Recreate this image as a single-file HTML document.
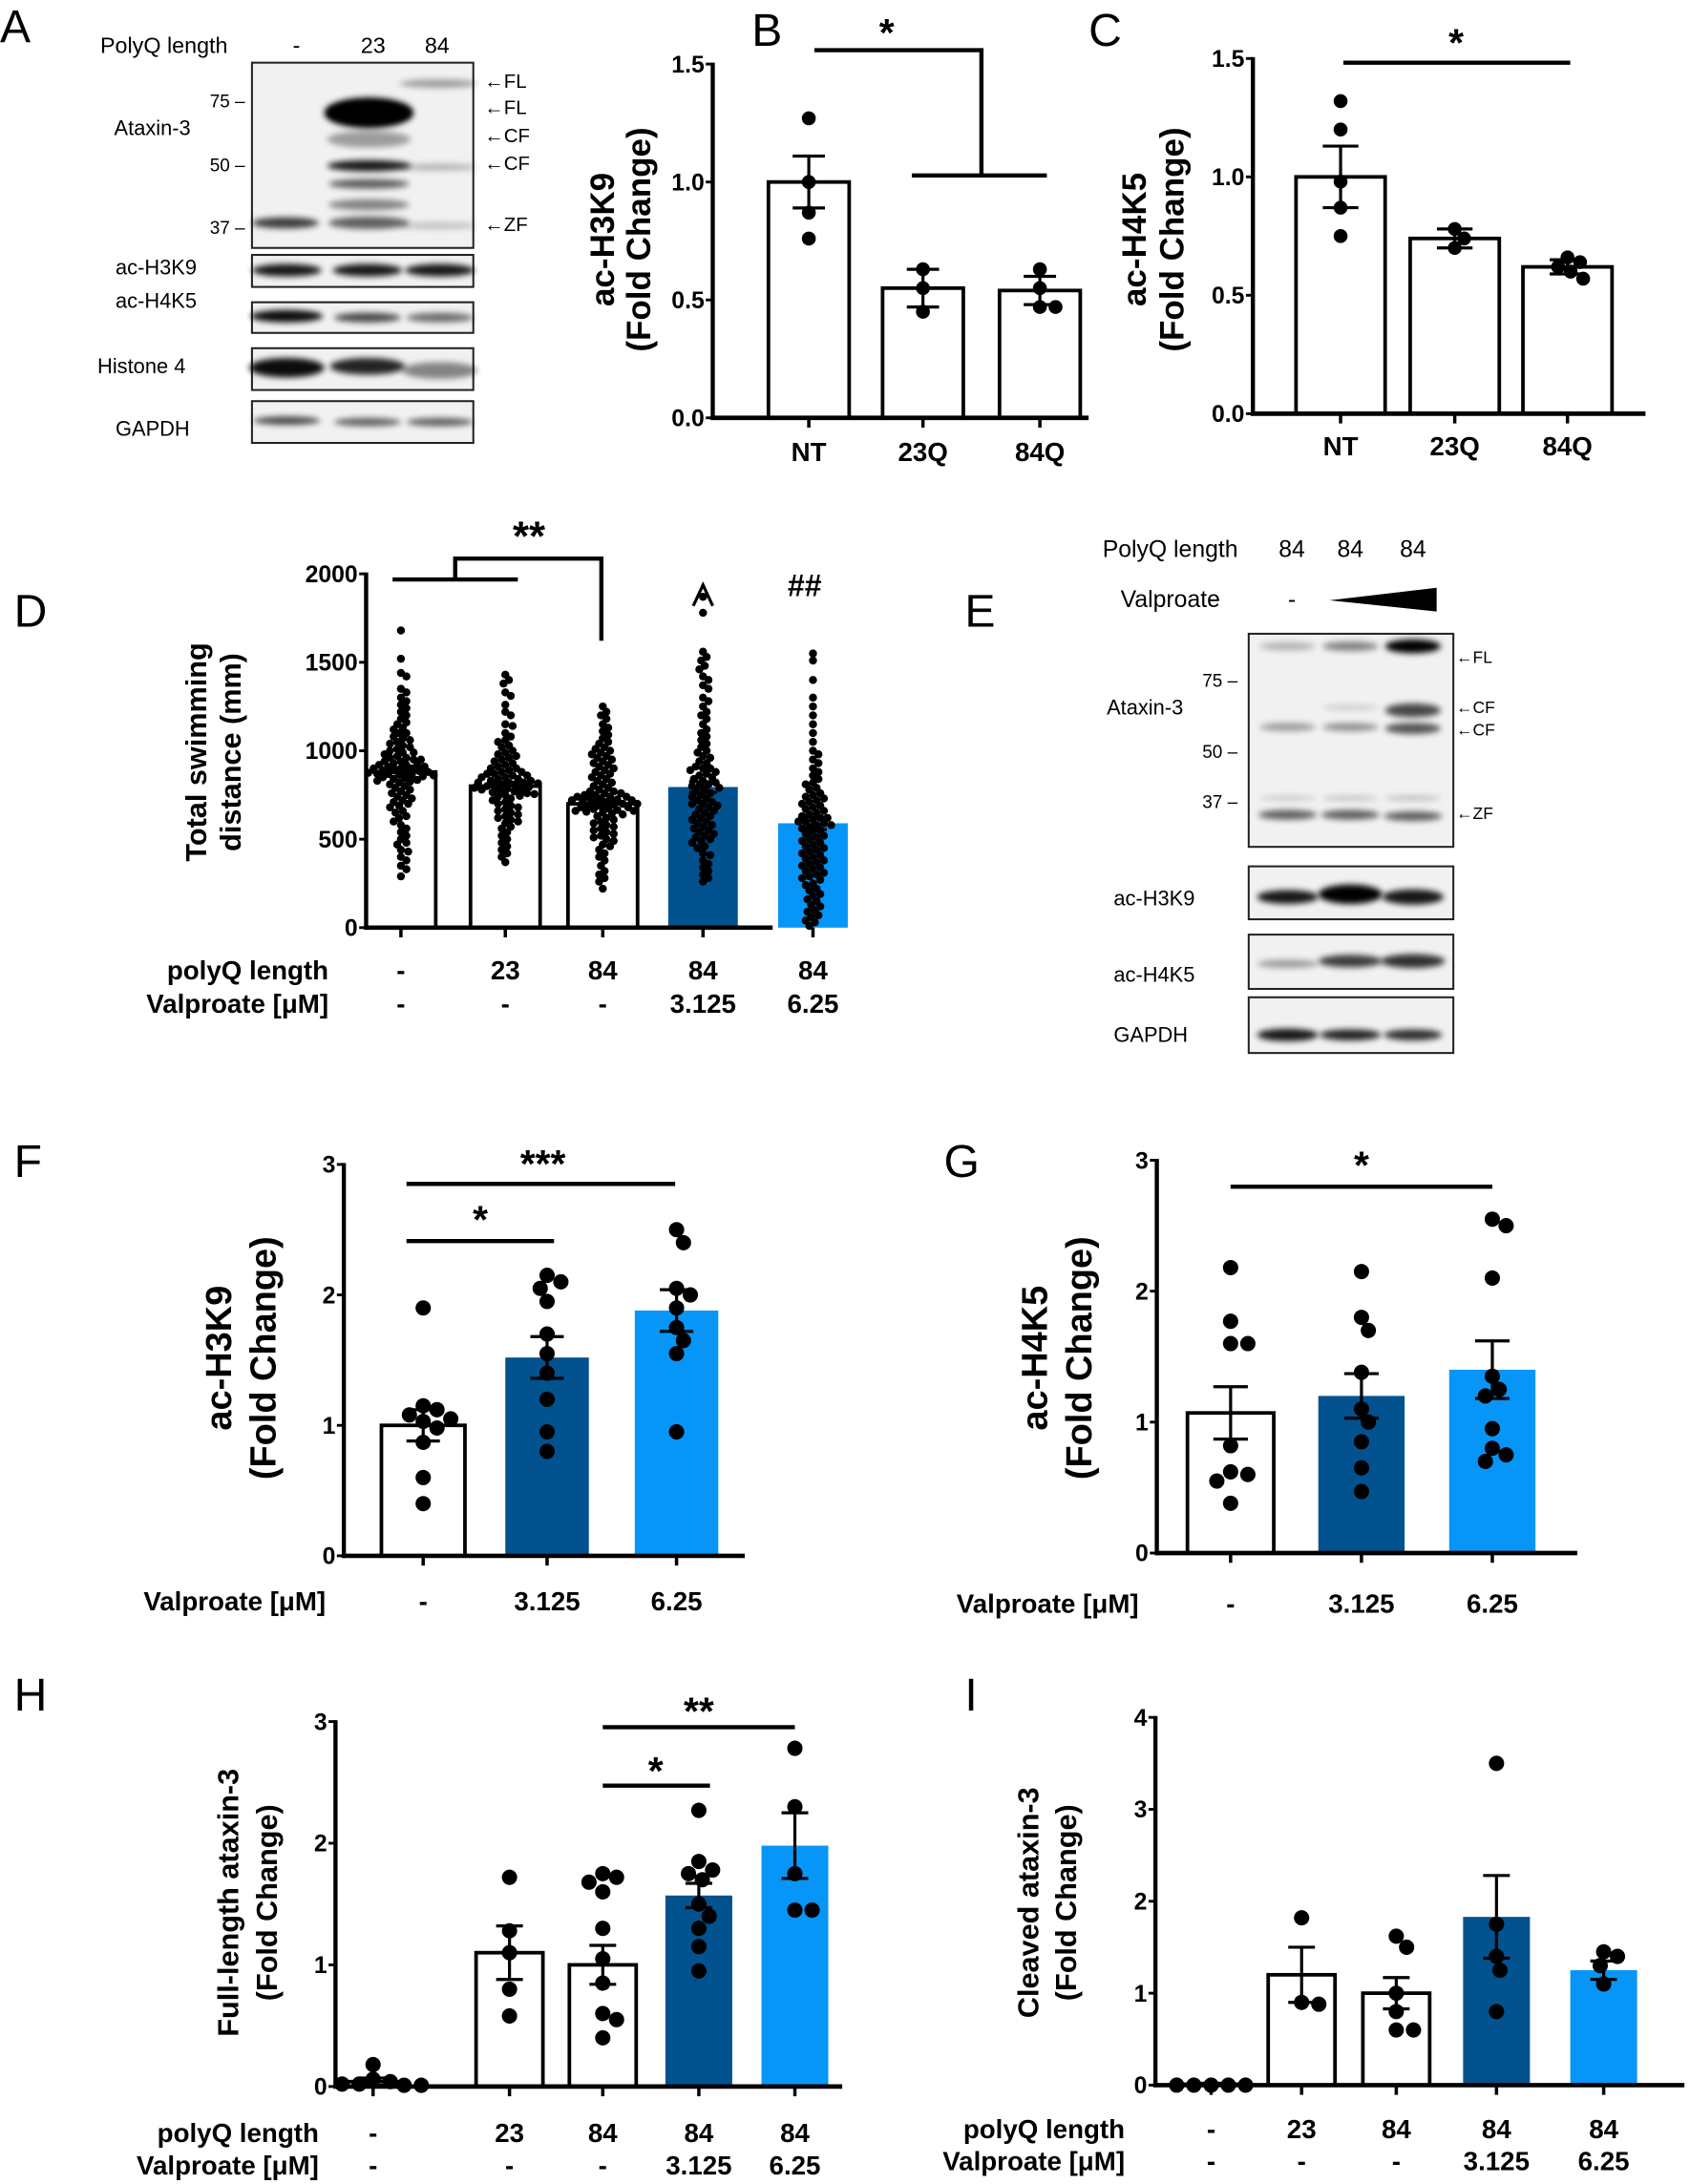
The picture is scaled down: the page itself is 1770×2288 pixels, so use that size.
<!DOCTYPE html>
<html><head><meta charset="utf-8"><style>
html,body{margin:0;padding:0;background:#fff}
svg{display:block}
text{font-family:"Liberation Sans",sans-serif}
.lbl{font-size:33px}
.tk{font-size:17px;font-weight:bold;font-family:"Liberation Sans Narrow","Liberation Sans",sans-serif}
.cat{font-size:19px;font-weight:bold}
</style></head><body>
<svg id="fig" width="1770" height="2288" viewBox="0 0 1214 1568" preserveAspectRatio="none" xmlns="http://www.w3.org/2000/svg">
<defs>
<filter id="blur" x="-20%" y="-100%" width="140%" height="300%"><feGaussianBlur stdDeviation="2.2"/></filter>
</defs>
<g id="root"></g>
</svg>
<script>
// ---------- DATA ----------
const bCats=["NT","23Q","84Q"];
const bMeans=[1.0,0.55,0.54];
const bSems=[0.11,0.08,0.06];
const bDots=[[1.27,1.0,0.87,0.76],[0.63,0.55,0.45],[0.63,0.55,0.47,0.47]];
const bTicks=[0,0.5,1.0,1.5];

const cCats=["NT","23Q","84Q"];
const cMeans=[1.0,0.74,0.62];
const cSems=[0.13,0.04,0.03];
const cDots=[[1.32,1.2,0.98,0.87,0.75],[0.78,0.74,0.7],[0.66,0.64,0.62,0.6,0.57]];
const cTicks=[0,0.5,1.0,1.5];

const dPolyQ=["-","23","84","84","84"];
const dValp=["-","-","-","3.125","6.25"];
const dMeans=[880,800,700,795,590];
const dSems=[25,22,20,30,35];
const dTicks=[0,500,1000,1500,2000];
const dDots0=[1680,1520,1420,1350,1300,1260,1220,1180,1150,1120,1100,1080,1060,1040,1020,1000,990,970,960,950,940,930,920,910,900,890,880,870,860,850,840,830,820,800,780,760,740,720,700,680,650,620,580,540,500,470,440,400,350,290,900,880,860,920,870,1440,1330,1280,1240,1200,1160,1130,1100,1070,1050,1030,1010,990,980,960,950,940,920,910,900,890,885,875,865,855,845,835,825,810,790,770,750,730,710,690,660,630,600,560,520,480,430,380,330];
const dDots1=[1430,1400,1330,1260,1200,1150,1100,1060,1030,1000,980,960,940,920,900,890,880,870,860,850,840,830,820,810,800,790,780,770,760,750,740,720,700,680,660,640,620,600,570,540,500,460,420,370,820,800,780,1380,1310,1220,1140,1080,1050,1020,990,970,950,930,910,900,880,870,860,850,840,830,820,815,805,795,785,775,765,755,745,730,710,690,670,650,630,610,590,560,520,480,440,400];
const dDots2=[1250,1200,1150,1110,1070,1040,1010,990,970,950,930,910,890,870,850,830,810,790,770,760,750,740,730,720,710,700,690,680,670,660,650,640,620,600,580,560,540,520,500,470,440,400,350,300,260,220,720,700,680,740,660,1220,1180,1130,1090,1050,1020,1000,980,960,940,920,900,880,860,840,820,800,780,770,760,750,740,730,725,715,705,695,685,675,665,655,645,630,610,590,570,550,530,510,490,460,420,380,320,280];
const dDots3=[1870,1780,1560,1510,1480,1420,1370,1300,1250,1200,1150,1100,1060,1020,990,960,930,900,880,860,840,820,800,780,760,740,720,700,680,660,640,620,600,580,560,540,520,490,460,420,380,340,300,260,900,800,700,1530,1460,1400,1350,1280,1220,1180,1120,1080,1040,1000,970,940,910,890,870,850,830,810,790,770,750,730,710,690,670,650,630,610,590,570,550,530,510,500,480,450,410,360,320,280];
const dDots4=[1550,1510,1300,1200,1100,1000,950,900,860,820,790,760,740,720,700,680,660,640,620,600,580,560,540,520,500,480,460,440,420,400,380,360,340,320,300,280,250,220,190,160,130,100,70,40,10,600,580,620,1400,1250,1150,1050,980,930,880,840,810,780,750,730,710,690,670,650,630,610,590,570,550,530,510,490,470,450,430,410,390,370,350,330,310,290,270,240,210,180,150,120,90,60,30];

const fCats=["-","3.125","6.25"];
const fMeans=[1.0,1.52,1.88];
const fSems=[0.12,0.16,0.16];
const fDots=[[1.9,1.15,1.12,1.08,1.05,1.03,0.98,0.87,0.6,0.4],[2.15,2.1,2.05,1.95,1.7,1.55,1.4,1.2,0.95,0.8],[2.5,2.4,2.05,2.0,1.9,1.75,1.65,1.55,0.95]];
const fTicks=[0,1,2,3];

const gCats=["-","3.125","6.25"];
const gMeans=[1.07,1.2,1.4];
const gSems=[0.2,0.17,0.22];
const gDots=[[2.18,1.77,1.6,1.6,0.82,0.62,0.6,0.55,0.38],[2.15,1.8,1.7,1.38,1.1,1.0,0.85,0.65,0.47],[2.55,2.5,2.1,1.35,1.25,1.2,0.95,0.8,0.7,0.75]];
const gTicks=[0,1,2,3];

const hPolyQ=["-","23","84","84","84"];
const hValp=["-","-","-","3.125","6.25"];
const hMeans=[0.04,1.1,1.0,1.57,1.98];
const hSems=[0.03,0.22,0.16,0.1,0.27];
const hDots=[[0.18,0.06,0.04,0.02,0.01,0.01,0.02],[1.72,1.28,1.1,0.8,0.58],[1.75,1.72,1.68,1.6,1.3,1.05,0.85,0.6,0.55,0.4],[2.27,1.85,1.78,1.75,1.7,1.5,1.4,1.3,1.15,0.95],[2.78,2.3,1.75,1.45,1.45]];
const hTicks=[0,1,2,3];

const iPolyQ=["-","23","84","84","84"];
const iValp=["-","-","-","3.125","6.25"];
const iMeans=[0.01,1.2,1.0,1.83,1.25];
const iSems=[0.01,0.3,0.17,0.45,0.1];
const iDots=[[0,0,0,0,0],[1.82,0.88,0.9],[1.62,1.5,1.0,0.8,0.6,0.6],[3.5,1.75,1.4,1.25,0.8],[1.45,1.4,1.1,1.3]];
const iTicks=[0,1,2,3,4];

// ---------- DRAWING ----------
const NS="http://www.w3.org/2000/svg";
const root=document.getElementById('root');
function el(tag,attrs,parent,txt){const e=document.createElementNS(NS,tag);for(const k in attrs)e.setAttribute(k,attrs[k]);if(txt!==undefined)e.textContent=txt;(parent||root).appendChild(e);return e;}
const WHITE="#fff",DARK="#02528f",LIGHT="#0796f7";

function swarm(vals,ys,r,fac,maxOff){
  const idx=vals.map((v,i)=>i).sort((a,b)=>vals[b]-vals[a]);
  const placed=[];const out=new Array(vals.length);let n=0;
  for(const i of idx){const y=ys(vals[i]);let off=0,k=0;n++;
    while(true){off=(k===0)?0:((k%2?1:-1)*Math.ceil(k/2)*r*0.45);
      if(Math.abs(off)>maxOff){off=(((n*7)%11)/5-1)*maxOff;break;}
      let ok=true;for(const p of placed){const dx=p.x-off,dy=p.y-y;if(dx*dx+dy*dy<(2*r*fac)**2){ok=false;break;}}
      if(ok)break;k++;}
    placed.push({x:off,y});out[i]=off;}
  return out;
}

function panel(p){
  const g=el('g',{});
  
  
  const ys=v=>p.y0-v/p.max*(p.y0-p.yTop);
  p.means.forEach((m,i)=>{
    const c=p.centers[i];const col=p.colors[i];
    const r=el('rect',{x:c-p.bw/2,y:ys(m),width:p.bw,height:p.y0-ys(m),fill:col,stroke:col===WHITE?'#000':'none','stroke-width':2.6},g);
    
    
  });
  p.dots.forEach((arr,i)=>{
    const offs=swarm(arr,ys,p.r,p.fac||0.92,p.maxOff||100);
    arr.forEach((v,j)=>{
      const d=el('circle',{cx:p.centers[i]+offs[j],cy:ys(v),r:p.r,fill:'#000'},g);
      
      
    });
  });
  p.means.forEach((m,i)=>{
    const c=p.centers[i],s=p.sems[i],cw=p.bw*0.2;
    el('line',{x1:c,x2:c,y1:ys(m-s),y2:ys(m+s),stroke:'#000','stroke-width':2.2},g);
    el('line',{x1:c-cw,x2:c+cw,y1:ys(m-s),y2:ys(m-s),stroke:'#000','stroke-width':2.2},g);
    el('line',{x1:c-cw,x2:c+cw,y1:ys(m+s),y2:ys(m+s),stroke:'#000','stroke-width':2.2},g);
  });
  const ya=el('line',{x1:p.ax,x2:p.ax,y1:p.yTop-1,y2:p.y0+1.5,stroke:'#000','stroke-width':3},g);
  
  const xa=el('line',{x1:p.ax-1.5,x2:p.xEnd,y1:p.y0,y2:p.y0,stroke:'#000','stroke-width':3.2},g);
  
  p.ticks.forEach(t=>{
    el('line',{x1:p.ax-5,x2:p.ax,y1:ys(t),y2:ys(t),stroke:'#000','stroke-width':2},g);
    const tt=el('text',{x:p.ax-6,y:ys(t)+6,'text-anchor':'end',class:'tk'},g,p.fmt(t));
    
  });
  p.centers.forEach(c=>el('line',{x1:c,x2:c,y1:p.y0,y2:p.y0+7,stroke:'#000','stroke-width':2.4},g));
  const tg=el('g',{transform:`translate(${p.tx},${p.ty}) rotate(-90)`},g);
  p.title.forEach((t,k)=>{const te=el('text',{x:0,y:k*p.tls,'text-anchor':'middle','font-size':p.tfs,'font-weight':'bold'},tg,t);
    });
  p.rows.forEach((row,k)=>{
    row.vals.forEach((v,i)=>{const te=el('text',{x:p.centers[i],y:row.y,'text-anchor':'middle',class:'cat'},g,v);
      });
    if(row.label){const te=el('text',{x:row.lx,y:row.y,'text-anchor':'end',class:'cat'},g,row.label);
      }
  });
  return {g,ys};
}
function sig(g,pts,txt,tx,ty,fs,fw){
  if(pts)el('polyline',{points:pts,fill:'none',stroke:'#000','stroke-width':3},g);
  if(txt){const t=el('text',{x:tx,y:ty,'text-anchor':'middle','font-size':fs||28,'font-weight':fw||'bold'},g,txt);
  
  }
}
function letter(ch,x,y){const t=el('text',{x,y,class:'lbl'},root,ch);
  
  }

const f1=t=>t.toFixed(1),f0=t=>String(t);

// B
let P=panel({name:'panel-b-chart',ax:512,y0:300,yTop:46,xEnd:782,max:1.5,ticks:bTicks,fmt:f1,centers:[581,663,747],bw:58,means:bMeans,sems:bSems,dots:bDots,colors:[WHITE,WHITE,WHITE],r:5,
  tx:441,ty:172,title:['ac-H3K9','(Fold Change)'],tfs:24,tls:26,rows:[{y:331,vals:bCats}]});
sig(P.g,`585,36 705,36 705,126`,'*',637,33);
sig(P.g,`655,126 752,126`,'',0,0);
// C
P=panel({name:'panel-c-chart',ax:900,y0:297,yTop:42,xEnd:1182,max:1.5,ticks:cTicks,fmt:f1,centers:[963,1045,1126],bw:64,means:cMeans,sems:cSems,dots:cDots,colors:[WHITE,WHITE,WHITE],r:5,
  tx:823,ty:172,title:['ac-H4K5','(Fold Change)'],tfs:24,tls:27,rows:[{y:327,vals:cCats}]});
sig(P.g,`965,45 1128,45`,'*',1046,40);
// D
P=panel({name:'panel-d-chart',ax:263,y0:666,yTop:412,xEnd:555,max:2000,ticks:dTicks,fmt:f0,centers:[288,363,433,505,584],bw:50,means:dMeans,sems:dSems,dots:[dDots0,dDots1,dDots2,dDots3,dDots4],colors:[WHITE,WHITE,WHITE,DARK,LIGHT],r:2.9,fac:0.78,maxOff:26,
  tx:148,ty:540,title:['Total swimming','distance (mm)'],tfs:21,tls:25,rows:[{y:703,vals:dPolyQ,label:'polyQ length',lx:236},{y:727,vals:dValp,label:'Valproate [\u03BCM]',lx:236}]});
sig(P.g,`282,416 372,416`,'',0,0);
sig(P.g,`327,416 327,401 432,401 432,460`,'**',380,395,30);
const wedge=el('polyline',{points:'498,435 505,420 512,435',fill:'none',stroke:'#000','stroke-width':2.2},P.g);


sig(P.g,'','##',578,428,22);
// F
P=panel({name:'panel-f-chart',ax:247,y0:1117,yTop:836,xEnd:535,max:3,ticks:fTicks,fmt:f0,centers:[304,393,486],bw:60,means:fMeans,sems:fSems,dots:fDots,colors:[WHITE,DARK,LIGHT],r:5.5,
  tx:166,ty:975,title:['ac-H3K9','(Fold Change)'],tfs:26,tls:32,rows:[{y:1156,vals:fCats,label:'Valproate [\u03BCM]',lx:234}]});
sig(P.g,`292,891 398,891`,'*',345,885);
sig(P.g,`292,850 485,850`,'***',390,845);
// G
P=panel({name:'panel-g-chart',ax:831,y0:1115,yTop:833,xEnd:1133,max:3,ticks:gTicks,fmt:f0,centers:[884,978,1072],bw:62,means:gMeans,sems:gSems,dots:gDots,colors:[WHITE,DARK,LIGHT],r:5.5,
  tx:752,ty:975,title:['ac-H4K5','(Fold Change)'],tfs:26,tls:32,rows:[{y:1158,vals:gCats,label:'Valproate [\u03BCM]',lx:818}]});
sig(P.g,`884,852 1072,852`,'*',978,846);
// H
P=panel({name:'panel-h-chart',ax:241,y0:1498,yTop:1236,xEnd:605,max:3,ticks:hTicks,fmt:f0,centers:[268,366,433,502,571],bw:48,means:hMeans,sems:hSems,dots:hDots,colors:[WHITE,WHITE,WHITE,DARK,LIGHT],r:5.5,
  tx:171,ty:1366,title:['Full-length ataxin-3','(Fold Change)'],tfs:21,tls:28,rows:[{y:1538,vals:hPolyQ,label:'polyQ length',lx:229},{y:1561,vals:hValp,label:'Valproate [\u03BCM]',lx:229}]});
sig(P.g,`433,1282 510,1282`,'*',471,1281);
sig(P.g,`433,1240 571,1240`,'**',502,1238);
// I
P=panel({name:'panel-i-chart',ax:830,y0:1497,yTop:1233,xEnd:1210,max:4,ticks:iTicks,fmt:f0,centers:[870,935,1003,1075,1152],bw:48,means:iMeans,sems:iSems,dots:iDots,colors:[WHITE,WHITE,WHITE,DARK,LIGHT],r:5.5,
  tx:746,ty:1366,title:['Cleaved ataxin-3','(Fold Change)'],tfs:21,tls:27,rows:[{y:1535,vals:iPolyQ,label:'polyQ length',lx:808},{y:1558,vals:iValp,label:'Valproate [\u03BCM]',lx:808}]});

// ---------- BLOTS ----------
function box(x,y,w,h,name){const b=el('rect',{x,y,width:w,height:h,fill:'#f1f1f1',stroke:'#222','stroke-width':1.4});
  }
function band(cx,cy,w,h,op){el('ellipse',{cx,cy,rx:w/2,ry:h/2,fill:'#000',opacity:op,filter:'url(#blur)'});}
function txt(x,y,s,anchor,size,name){const t=el('text',{x,y,'text-anchor':anchor||'start','font-size':size||15},root,s);
  }

// Blot A
box(181,45,159,133,'blot-a-ataxin3');
band(205,160,48,8,0.75);
band(265,81,64,22,1);band(265,81,58,14,1);
band(265,100,60,12,0.35);band(265,119,60,8,0.9);band(265,132,58,7,0.6);band(265,147,58,8,0.45);band(265,160,58,9,0.6);
band(315,60,56,6,0.35);band(315,120,56,5,0.25);band(315,162,56,5,0.2);
[[183,23,'ac-h3k9'],[217,22,'ac-h4k5'],[250,30,'histone4'],[288,30,'gapdh']].forEach(([y,h,n])=>{
  box(181,y,159,h,'blot-a-'+n);
});
[[206,194,0.9],[264,194,0.9],[316,194,0.9]].forEach(([x,y,o])=>band(x,y,50,9,o));
band(206,227,52,9,0.95);band(264,228,48,7,0.7);band(316,228,48,7,0.55);
band(206,264,54,14,0.95);band(264,263,54,12,0.85);band(316,266,54,12,0.45);
band(206,302,48,6,0.7);band(264,303,48,6,0.6);band(316,303,48,6,0.6);
txt(72,38,'PolyQ length','start',16);txt(213,38,'-','middle',16);txt(268,38,'23','middle',16);txt(314,38,'84','middle',16);
txt(176,77,'75 –','end',13);txt(176,123,'50 –','end',13);txt(176,168,'37 –','end',13);
txt(82,97,'Ataxin-3');
[['←FL',63],['←FL',82],['←CF',102],['←CF',122],['←ZF',166]].forEach(([s,y])=>txt(348,y,s,'start',14));
txt(83,197,'ac-H3K9');txt(83,221,'ac-H4K5');txt(70,268,'Histone 4');txt(83,313,'GAPDH');

// Blot E
box(897,455,147,153,'blot-e-ataxin3');
band(925,464,40,6,0.25);band(970,464,40,7,0.45);band(1015,464,40,10,1);
band(970,508,40,5,0.12);band(1015,510,40,10,0.7);
band(925,522,40,6,0.35);band(970,522,40,6,0.4);band(1015,523,40,8,0.65);
band(925,573,40,4,0.15);band(970,573,40,4,0.18);band(1015,573,40,4,0.2);
band(925,585,42,7,0.6);band(970,585,42,7,0.6);band(1015,586,42,7,0.6);
box(897,622,147,38,'blot-e-ac-h3k9');box(897,671,147,39,'blot-e-ac-h4k5');box(897,716,147,40,'blot-e-gapdh');
band(925,644,44,10,0.9);band(970,642,46,14,1);band(1015,644,44,11,0.9);
band(925,692,44,6,0.35);band(970,690,46,9,0.75);band(1015,690,46,10,0.8);
band(925,743,44,9,0.9);band(970,743,44,8,0.85);band(1015,743,42,8,0.8);
txt(792,400,'PolyQ length','start',17);txt(928,400,'84','middle',17);txt(970,400,'84','middle',17);txt(1015,400,'84','middle',17);
txt(805,436,'Valproate','start',17);txt(928,436,'-','middle',17);
const tri=el('polygon',{points:'955,431 1032,422 1032,439',fill:'#000'});

txt(889,493,'75 –','end',13);txt(889,544,'50 –','end',13);txt(889,580,'37 –','end',13);
txt(795,513,'Ataxin-3');
[['←FL',476],['←CF',512],['←CF',528],['←ZF',588]].forEach(([s,y])=>txt(1046,y,s,'start',12));
txt(800,650,'ac-H3K9');txt(800,705,'ac-H4K5');txt(800,748,'GAPDH');

letter('A',0,30);letter('B',540,33);letter('C',782,33);letter('D',10,450);letter('E',693,450);
letter('F',10,845);letter('G',678,845);letter('H',10,1228);letter('I',693,1228);
</script>
</body></html>
